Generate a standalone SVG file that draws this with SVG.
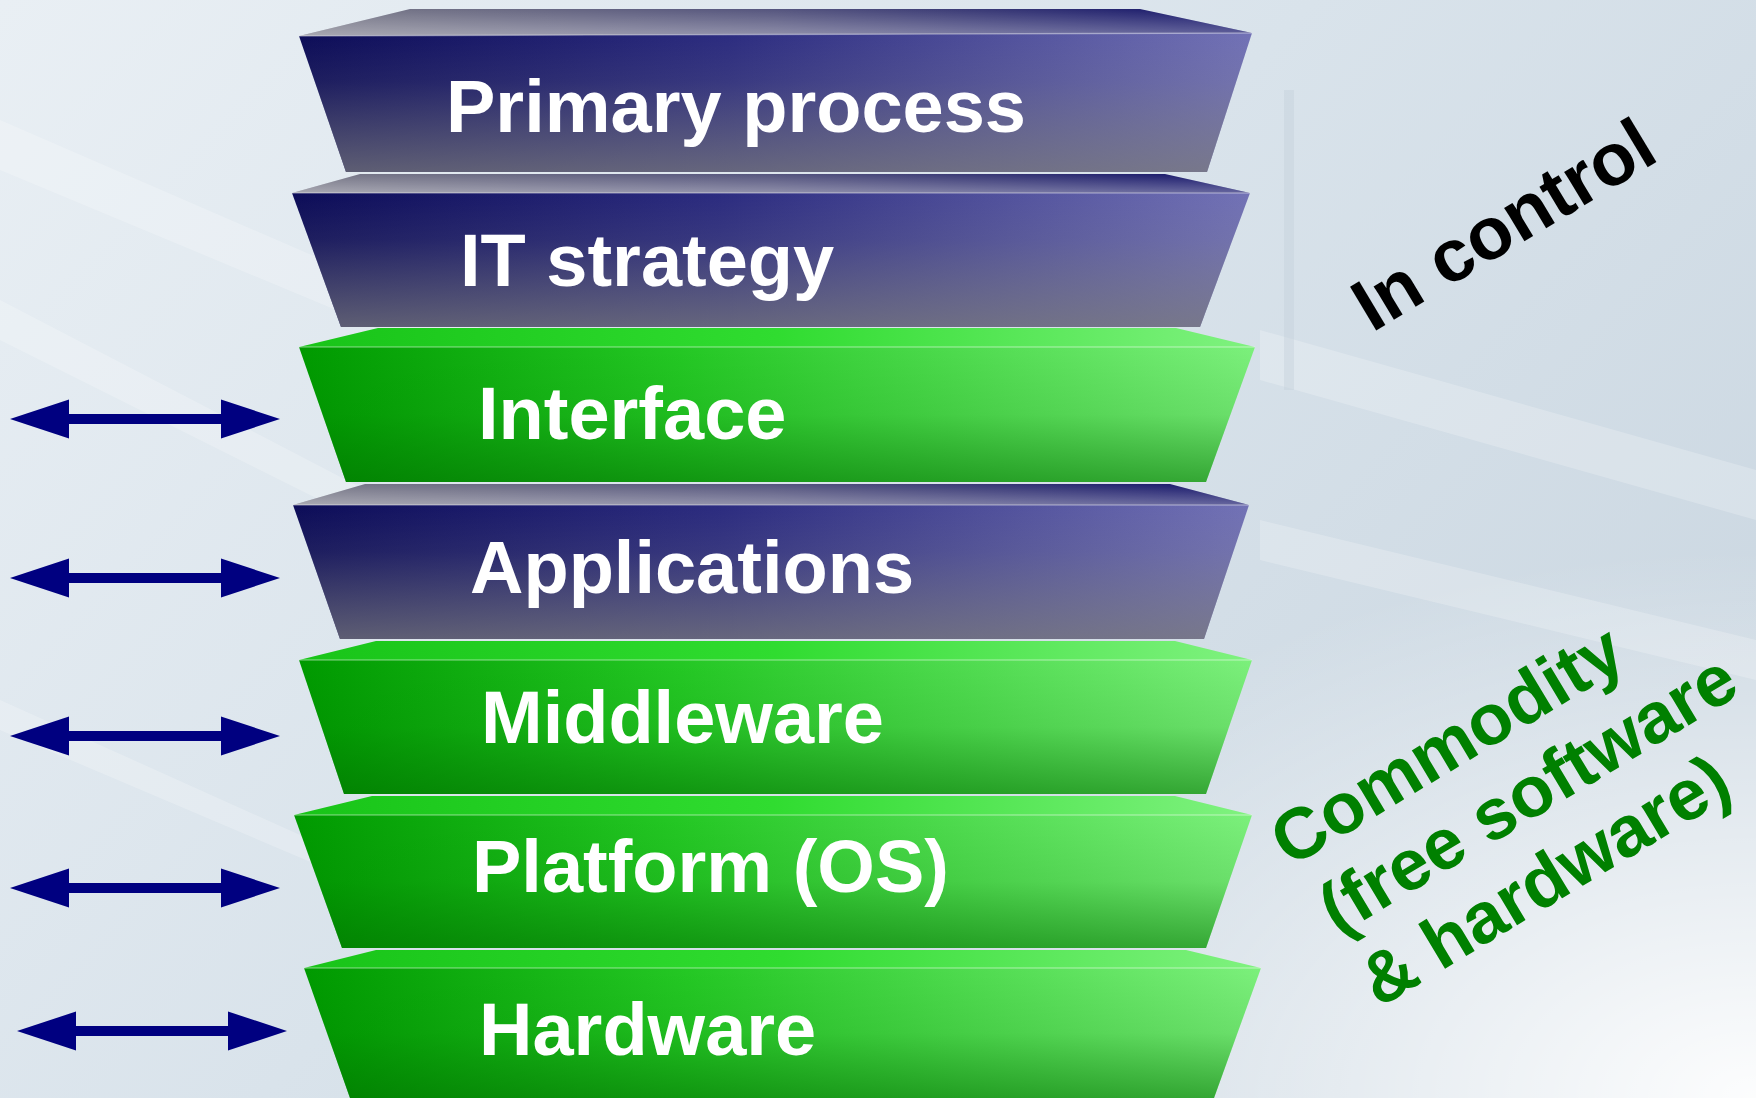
<svg xmlns="http://www.w3.org/2000/svg" width="1756" height="1098" viewBox="0 0 1756 1098">
<defs>
<linearGradient id="bg" x1="0" y1="0" x2="1" y2="0.6">
<stop offset="0" stop-color="#e9eff4"/>
<stop offset="0.55" stop-color="#d9e3eb"/>
<stop offset="1" stop-color="#ccd8e2"/>
</linearGradient>
<radialGradient id="bgGlow" cx="1" cy="1" r="0.5">
<stop offset="0" stop-color="#ffffff" stop-opacity="0.95"/>
<stop offset="1" stop-color="#ffffff" stop-opacity="0"/>
</radialGradient>
<linearGradient id="navyH" x1="0" y1="0" x2="1" y2="0">
<stop offset="0" stop-color="#0c0c58"/>
<stop offset="0.45" stop-color="#2c2c80"/>
<stop offset="1" stop-color="#7272b6"/>
</linearGradient>
<linearGradient id="greyV" x1="0" y1="0" x2="0" y2="1">
<stop offset="0" stop-color="#808080" stop-opacity="0"/>
<stop offset="0.35" stop-color="#808080" stop-opacity="0.15"/>
<stop offset="1" stop-color="#7c7c7c" stop-opacity="0.72"/>
</linearGradient>
<linearGradient id="navyTop" x1="0" y1="0" x2="1" y2="0">
<stop offset="0" stop-color="#7a7a88"/>
<stop offset="0.5" stop-color="#55557e"/>
<stop offset="1" stop-color="#12126a"/>
</linearGradient>
<linearGradient id="sheen" x1="0" y1="0" x2="0" y2="1">
<stop offset="0" stop-color="#ffffff" stop-opacity="0"/>
<stop offset="1" stop-color="#ffffff" stop-opacity="0.35"/>
</linearGradient>
<linearGradient id="greenH" x1="0" y1="0" x2="1" y2="0">
<stop offset="0" stop-color="#009a00"/>
<stop offset="0.4" stop-color="#24c824"/>
<stop offset="1" stop-color="#7cf07c"/>
</linearGradient>
<linearGradient id="greenV" x1="0" y1="0" x2="0" y2="1">
<stop offset="0" stop-color="#006a00" stop-opacity="0"/>
<stop offset="0.5" stop-color="#006a00" stop-opacity="0.12"/>
<stop offset="1" stop-color="#006e00" stop-opacity="0.55"/>
</linearGradient>
<linearGradient id="greenTop" x1="0" y1="0" x2="1" y2="0">
<stop offset="0" stop-color="#18c418"/>
<stop offset="0.5" stop-color="#30dc30"/>
<stop offset="1" stop-color="#80f280"/>
</linearGradient>
<marker id="ah" markerUnits="userSpaceOnUse" markerWidth="60" markerHeight="40" viewBox="0 0 60 40" refX="19" refY="20" orient="auto-start-reverse">
<path d="M0,0.5 L59,20 L0,39.5 Z" fill="#000080"/>
</marker>
</defs>
<style>
.lbl{font-family:"Liberation Sans",Arial,sans-serif;font-weight:bold;font-size:74px;fill:#ffffff}
.side{font-family:"Liberation Sans",Arial,sans-serif;font-weight:bold;font-size:74px}
.com{font-family:"Liberation Sans",Arial,sans-serif;font-weight:bold;font-size:72px;fill:#008000}
.arrow{stroke:#000080;stroke-width:10;fill:none}
.edge{fill:none;stroke:#ffffff;stroke-opacity:0.35;stroke-width:1.5}
</style>
<rect width="1756" height="1098" fill="url(#bg)"/>
<g opacity="0.22" fill="#ffffff">
<polygon points="0,120 600,380 600,420 0,170"/>
<polygon points="0,300 500,560 500,590 0,340"/>
<polygon points="0,700 400,880 400,900 0,730"/>
<polygon points="1260,330 1756,470 1756,520 1260,380"/>
<polygon points="1260,520 1756,640 1756,680 1260,560"/>
</g>
<rect x="1284" y="90" width="10" height="300" fill="#c4d0da" opacity="0.4"/>
<rect width="1756" height="1098" fill="url(#bgGlow)"/>

<g id="node-primary">
<polygon points="299,36 410,9 1140,9 1252,33" fill="url(#navyTop)"/>
<polygon points="299,36 410,9 1140,9 1252,33" fill="url(#sheen)"/>
<polygon points="299,36 1252,33 1207,172 346,172" fill="url(#navyH)"/>
<polygon points="299,36 1252,33 1207,172 346,172" fill="url(#greyV)"/>
<line class="edge" x1="299" y1="36" x2="1252" y2="33"/>
<text class="lbl" x="446" y="132">Primary process</text>
</g>
<g id="node-itstrategy">
<polygon points="292,193 360,174 1165,174 1250,193" fill="url(#navyTop)"/>
<polygon points="292,193 360,174 1165,174 1250,193" fill="url(#sheen)"/>
<polygon points="292,193 1250,193 1200,327 341,327" fill="url(#navyH)"/>
<polygon points="292,193 1250,193 1200,327 341,327" fill="url(#greyV)"/>
<line class="edge" x1="292" y1="193" x2="1250" y2="193"/>
<text class="lbl" x="460" y="286">IT strategy</text>
</g>
<g id="node-interface">
<polygon points="299,347 378,328 1176,328 1255,347" fill="url(#greenTop)"/>
<polygon points="299,347 1255,347 1206,482 346,482" fill="url(#greenH)"/>
<polygon points="299,347 1255,347 1206,482 346,482" fill="url(#greenV)"/>
<line class="edge" x1="299" y1="347" x2="1255" y2="347"/>
<text class="lbl" x="478" y="439">Interface</text>
</g>
<g id="node-applications">
<polygon points="293,505 365,484 1170,484 1249,505" fill="url(#navyTop)"/>
<polygon points="293,505 365,484 1170,484 1249,505" fill="url(#sheen)"/>
<polygon points="293,505 1249,505 1204,639 340,639" fill="url(#navyH)"/>
<polygon points="293,505 1249,505 1204,639 340,639" fill="url(#greyV)"/>
<line class="edge" x1="293" y1="505" x2="1249" y2="505"/>
<text class="lbl" x="470" y="593">Applications</text>
</g>
<g id="node-middleware">
<polygon points="299,660 376,641 1175,641 1252,660" fill="url(#greenTop)"/>
<polygon points="299,660 1252,660 1206,794 344,794" fill="url(#greenH)"/>
<polygon points="299,660 1252,660 1206,794 344,794" fill="url(#greenV)"/>
<line class="edge" x1="299" y1="660" x2="1252" y2="660"/>
<text class="lbl" x="481" y="743">Middleware</text>
</g>
<g id="node-platform">
<polygon points="294,815 372,796 1175,796 1252,815" fill="url(#greenTop)"/>
<polygon points="294,815 1252,815 1206,948 342,948" fill="url(#greenH)"/>
<polygon points="294,815 1252,815 1206,948 342,948" fill="url(#greenV)"/>
<line class="edge" x1="294" y1="815" x2="1252" y2="815"/>
<text class="lbl" x="472" y="892">Platform (OS)</text>
</g>
<g id="node-hardware">
<polygon points="304,968 376,950 1186,950 1261,968" fill="url(#greenTop)"/>
<polygon points="304,968 1261,968 1214,1098 350,1098" fill="url(#greenH)"/>
<polygon points="304,968 1261,968 1214,1098 350,1098" fill="url(#greenV)"/>
<line class="edge" x1="304" y1="968" x2="1261" y2="968"/>
<text class="lbl" x="479" y="1055">Hardware</text>
</g>

<g id="connectors">
<line class="arrow" x1="50" y1="419" x2="240" y2="419" marker-start="url(#ah)" marker-end="url(#ah)"/>
<line class="arrow" x1="50" y1="578" x2="240" y2="578" marker-start="url(#ah)" marker-end="url(#ah)"/>
<line class="arrow" x1="50" y1="736" x2="240" y2="736" marker-start="url(#ah)" marker-end="url(#ah)"/>
<line class="arrow" x1="50" y1="888" x2="240" y2="888" marker-start="url(#ah)" marker-end="url(#ah)"/>
<line class="arrow" x1="57" y1="1031" x2="247" y2="1031" marker-start="url(#ah)" marker-end="url(#ah)"/>
</g>

<g id="label-incontrol">
<text class="side" fill="#000000" transform="translate(1372,333) rotate(-31)">In control</text>
</g>
<g id="label-commodity" transform="translate(1290,868) rotate(-31)">
<text class="com" x="0" y="0">Commodity</text>
<text class="com" x="6" y="83">(free software</text>
<text class="com" x="4" y="166">&amp; hardware)</text>
</g>
</svg>
